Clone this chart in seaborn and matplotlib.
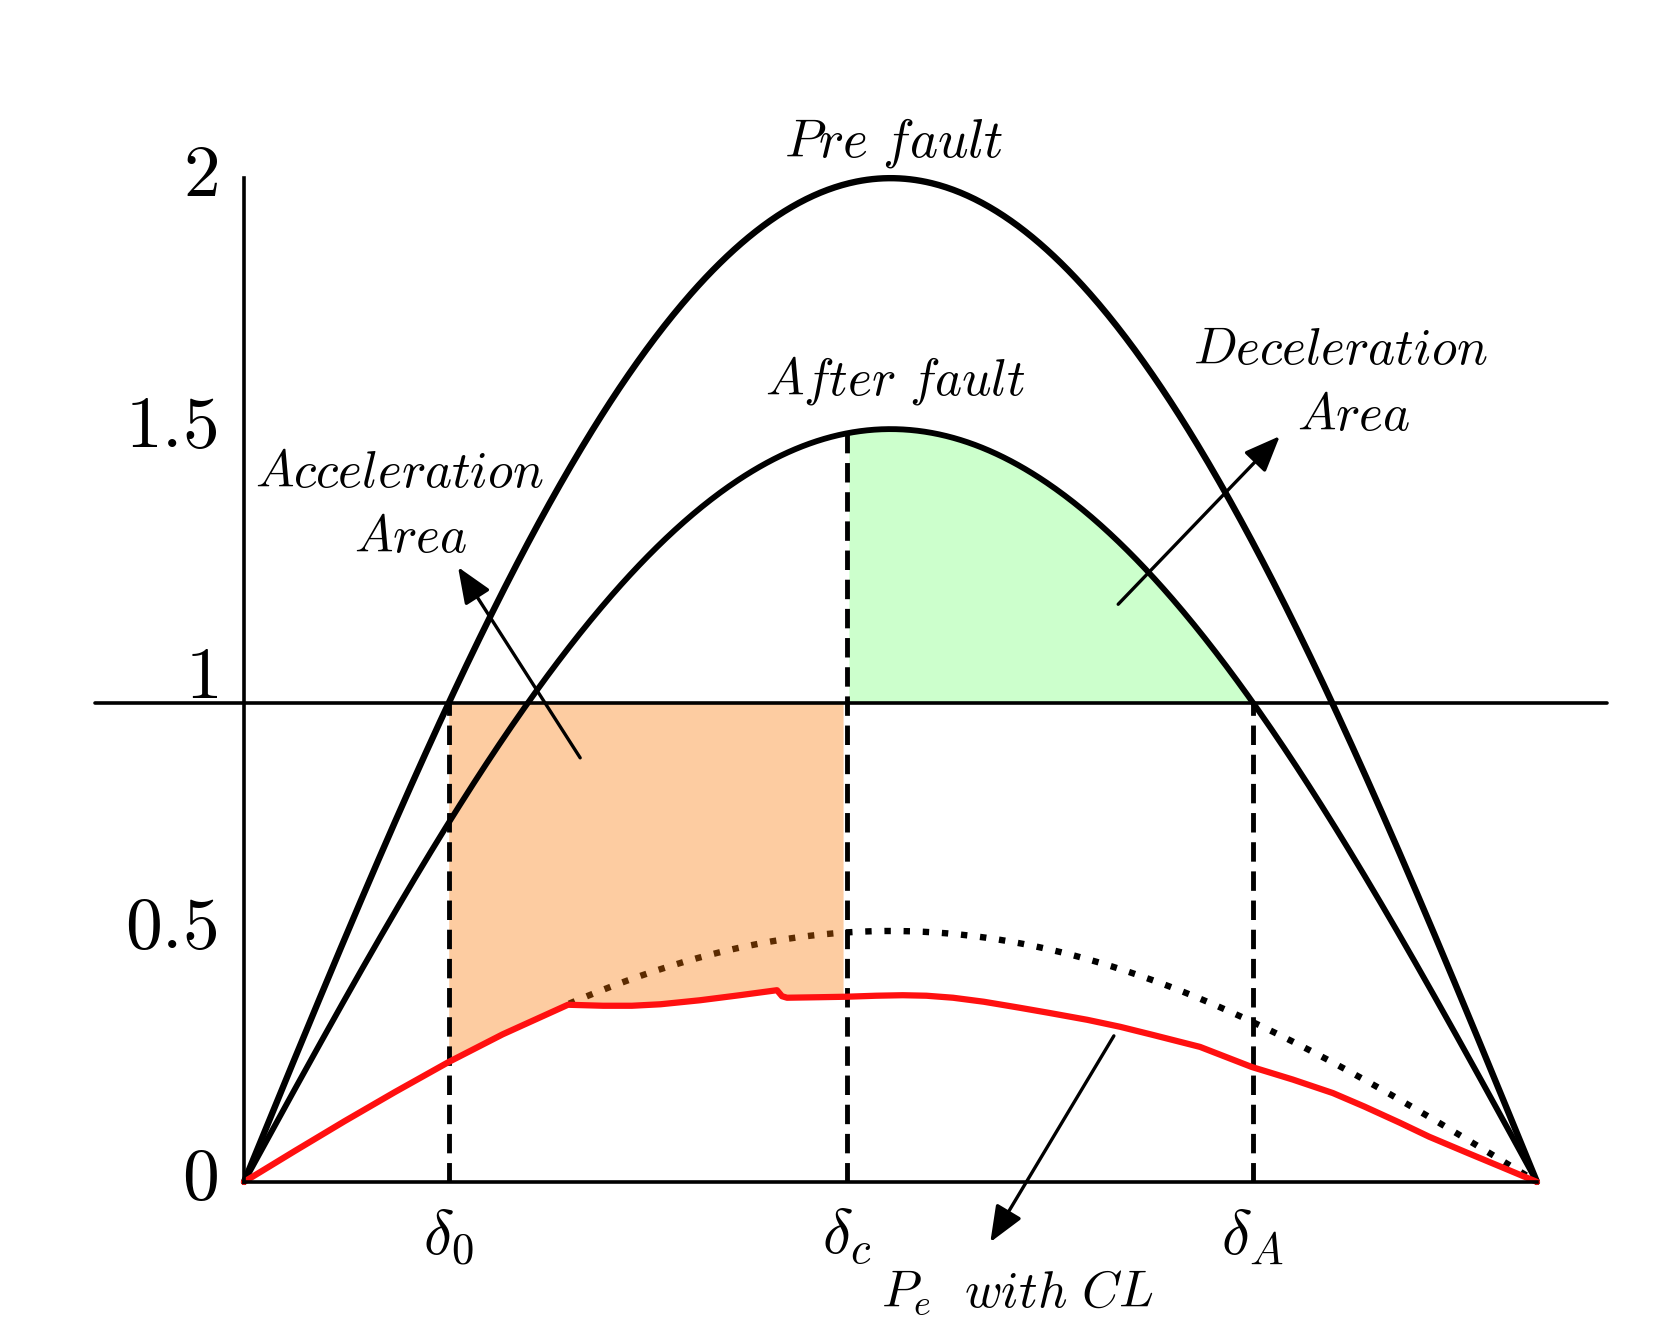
import numpy as np
import pandas as pd
import matplotlib
matplotlib.use("Agg")
import matplotlib.pyplot as plt
from matplotlib.transforms import ScaledTranslation
import seaborn as sns

# ---- data (angles in degrees, power in p.u.) ----
pmax_pre = 2.0       # pre-fault curve amplitude
pmax_after = 1.5     # after-fault curve amplitude
pmax_fault = 0.5     # during-fault curve amplitude (dotted)
pm = 0.954           # mechanical power line
delta_0 = 28.5
delta_c = 83.9
delta_A = 140.4
dotted_start = 45.1

# Pe with CL (red curve)
cl_angle = [0, 7, 14, 21, 28.5, 36, 45.1, 50, 54.0, 58, 63.5, 69, 74.2, 74.9, 75.6,
            80, 83.9, 88, 91.7, 95, 98.7, 103, 108.0, 112, 117.4, 122, 126.5, 133.1,
            140.3, 146, 151.6, 156, 160.9, 165, 170.3, 175, 180]
cl_power = [0, 0.061, 0.121, 0.179, 0.239, 0.294, 0.353, 0.351, 0.351, 0.354, 0.362, 0.372,
            0.382, 0.370, 0.367, 0.368, 0.369, 0.371, 0.372, 0.371, 0.367, 0.359, 0.347, 0.337,
            0.323, 0.309, 0.293, 0.269, 0.229, 0.204, 0.177, 0.150, 0.118, 0.090, 0.058,
            0.030, 0]

ytick_vals = [0, 0.5, 1, 1.5, 2]
ytick_labels = ["$0$", "$0.5$", "$1$", "$1.5$", "$2$"]
xtick_labels = [r"$\delta_0$", r"$\delta_c$", r"$\delta_A$"]

# ---- style ----
sns.set_theme(style="white")
plt.rcParams["mathtext.fontset"] = "cm"
plt.rcParams["font.family"] = ["DejaVu Serif"]
plt.rcParams["text.color"] = "black"
plt.rcParams["xtick.color"] = "black"
plt.rcParams["ytick.color"] = "black"
plt.rcParams["xtick.labelcolor"] = "black"
plt.rcParams["ytick.labelcolor"] = "black"

fig = plt.figure(figsize=(16.61, 13.38), dpi=100)
ax = fig.add_axes([0, 0, 1, 1])
ax.set_xlim(-33.97, 197.27)
ax.set_ylim(-0.311, 2.355)

deg = np.linspace(0, 180, 721)
rad = np.deg2rad(deg)
df = pd.DataFrame({"deg": deg,
                   "pre": pmax_pre * np.sin(rad),
                   "after": pmax_after * np.sin(rad)})
mask = deg >= dotted_start
df_fault = pd.DataFrame({"deg": deg[mask], "p": pmax_fault * np.sin(rad[mask])})
df_cl = pd.DataFrame({"deg": cl_angle, "p": cl_power})

sns.lineplot(data=df, x="deg", y="pre", ax=ax, color="black", linewidth=4.6, zorder=4)
sns.lineplot(data=df, x="deg", y="after", ax=ax, color="black", linewidth=4.2, zorder=4)
ax.plot(df_fault["deg"], df_fault["p"], color="black", linewidth=4.6,
        linestyle=(0, (1, 2)), dash_capstyle="butt", zorder=2)
sns.lineplot(data=df_cl, x="deg", y="p", ax=ax, color="#ff1010", linewidth=4.5, zorder=5,
             sort=False)

# filled areas
acc_x = np.linspace(delta_0, delta_c - 0.5, 300)
acc_low = np.interp(acc_x, cl_angle, cl_power)
ax.fill_between(acc_x, acc_low, pm, color="#fa7500", alpha=0.37, lw=0, zorder=3)

dec_x = np.linspace(delta_c + 0.3, delta_A, 300)
ax.fill_between(dec_x, pm, pmax_after * np.sin(np.deg2rad(dec_x)),
                color="#ccffcc", lw=0, zorder=1)

# mechanical power line
ax.plot([-20.7, 189.8], [pm, pm], color="black", linewidth=2.6, zorder=4)

# dashed verticals
dash = dict(color="black", linewidth=3.5, linestyle=(0, (4, 2)), dash_capstyle="butt", zorder=4)
ax.plot([delta_0, delta_0], [0, pm], **dash)
ax.plot([delta_c, delta_c], [0, pmax_after * np.sin(np.deg2rad(delta_c))], **dash)
ax.plot([delta_A, delta_A], [0, pm], **dash)

# spines / ticks
for s in ["top", "right"]:
    ax.spines[s].set_visible(False)
ax.spines["left"].set_position(("data", 0))
ax.spines["bottom"].set_position(("data", 0))
ax.spines["left"].set_bounds(0, 2)
ax.spines["bottom"].set_bounds(0, 180)
for s in ["left", "bottom"]:
    ax.spines[s].set_linewidth(2.6)
    ax.spines[s].set_color("black")
    ax.spines[s].set_zorder(6)
ax.set_yticks(ytick_vals)
ax.set_yticklabels(ytick_labels, fontsize=53)
ax.set_xticks([delta_0, delta_c, delta_A])
ax.set_xticklabels(xtick_labels, fontsize=46)
ax.tick_params(axis="y", length=0, pad=19)
ax.tick_params(axis="x", length=0, pad=18)
shift = ScaledTranslation(0, 0.11, fig.dpi_scale_trans)
for lab in ax.get_yticklabels():
    lab.set_transform(lab.get_transform() + shift)
ax.set_xlabel("")
ax.set_ylabel("")
ax.grid(False)
ax.patch.set_alpha(0)

# annotations
tsize = 37
ax.text(90.4, 2.07, r"$Pre\ fault$", fontsize=38.5, ha="center", va="center")
ax.text(90.6, 1.596, r"$After\ fault$", fontsize=tsize, ha="center", va="center")
ax.text(152.6, 1.657, r"$Deceleration$", fontsize=tsize, ha="center", va="center")
ax.text(154.5, 1.526, r"$Area$", fontsize=tsize, ha="center", va="center")
ax.text(21.7, 1.412, r"$Acceleration$", fontsize=tsize, ha="center", va="center")
ax.text(23.2, 1.283, r"$Area$", fontsize=tsize, ha="center", va="center")
ax.text(107.6, -0.223, r"$P_e\ \ with\ CL$", fontsize=tsize, ha="center", va="center")

arrow = dict(arrowstyle="-|>,head_length=1.1,head_width=0.45", color="black", lw=2.4,
             shrinkA=0, shrinkB=0, mutation_scale=20)
ax.annotate("", xy=(29.8, 1.225), xytext=(46.8, 0.845), arrowprops=arrow, zorder=7)
ax.annotate("", xy=(144.2, 1.486), xytext=(121.7, 1.151), arrowprops=arrow, zorder=7)
ax.annotate("", xy=(103.9, -0.120), xytext=(121.1, 0.291), arrowprops=arrow, zorder=7)

fig.savefig("out.png", dpi=100)
